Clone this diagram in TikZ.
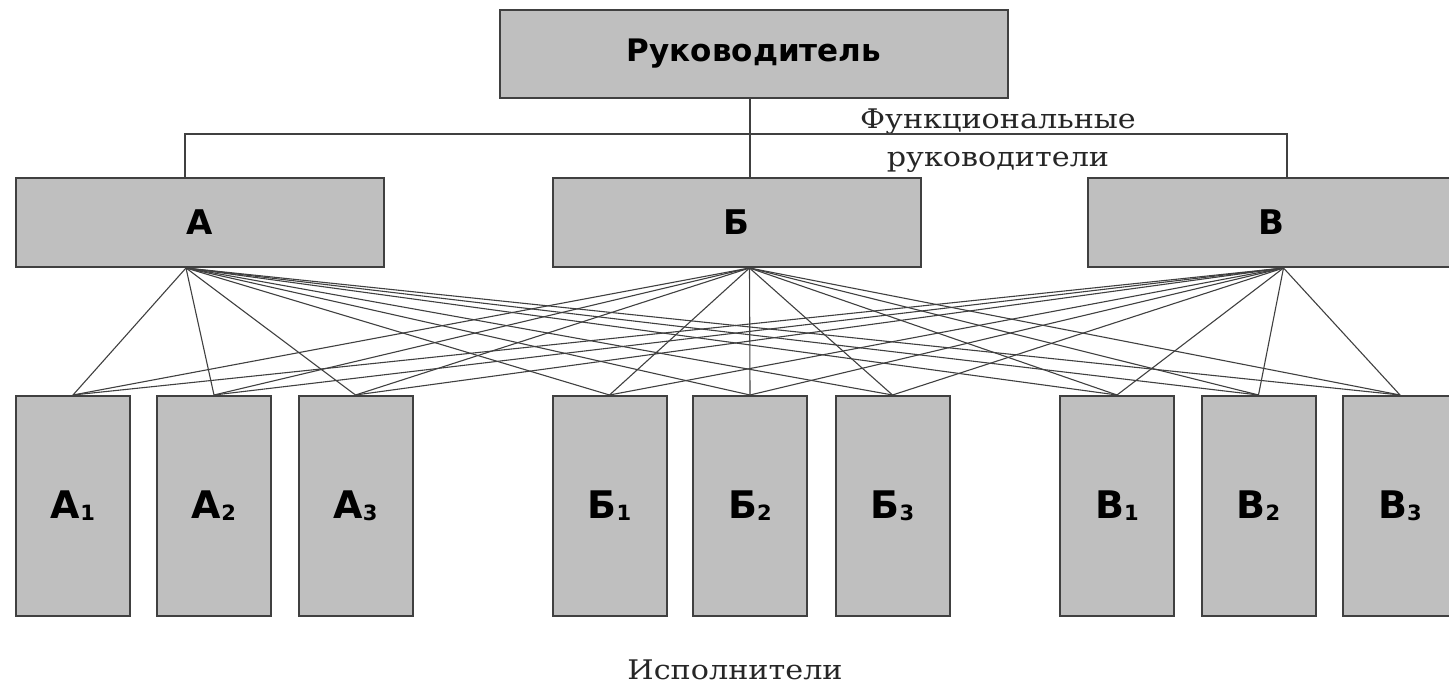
\documentclass[tikz,border=0pt]{standalone}
\usepackage{fontspec}
\setmainfont{DejaVu Serif}
\setsansfont{DejaVu Sans}
\newfontfamily\labelfont{DejaVu Serif}[FakeStretch=1.12]
\usepackage{tikz}
\usetikzlibrary{positioning}
\newcommand{\idx}[1]{\raisebox{-2pt}{\fontsize{21}{21}\selectfont #1}}

\begin{document}
\begin{tikzpicture}[
  x=1pt, y=-1pt,
  chief/.style={draw=black!75, line width=2pt, fill=gray!50, minimum width=508pt, minimum height=88pt, inner sep=0pt, font=\sffamily\bfseries\fontsize{31}{31}\selectfont},
  headbox/.style={draw=black!75, line width=2pt, fill=gray!50, minimum width=368pt, minimum height=89pt, inner sep=0pt, font=\sffamily\bfseries\fontsize{34}{34}\selectfont},
  workbox/.style={draw=black!75, line width=2pt, fill=gray!50, minimum width=114pt, minimum height=220pt, inner sep=0pt, font=\sffamily\bfseries\fontsize{38}{38}\selectfont},
  note/.style={font=\labelfont\fontsize{27}{38}\selectfont, text=black!85, align=center, inner sep=0pt},
  link/.style={draw=black!75, line width=1.3pt}
]
\useasboundingbox (0,0) rectangle (1449,687);
\clip (0,0) rectangle (1449,687);

% managers
\node[chief] (boss) at (754,54) {Руководитель};
\node[headbox] (a) at (200,222.5) {А};
\node[headbox] (b) at (736.5,222.5) {Б};
\node[headbox] (v) at (1271.5,222.5) {В};

% executors
\node[workbox] (a1) at (73,506) {А\idx{1}};
\node[workbox] (a2) at (214,506) {А\idx{2}};
\node[workbox] (a3) at (355.5,506) {А\idx{3}};
\node[workbox] (b1) at (609.5,506) {Б\idx{1}};
\node[workbox] (b2) at (750,506) {Б\idx{2}};
\node[workbox] (b3) at (892.5,506) {Б\idx{3}};
\node[workbox] (v1) at (1117,506) {В\idx{1}};
\node[workbox] (v2) at (1258.5,506) {В\idx{2}};
\node[workbox] (v3) at (1400,506) {В\idx{3}};

\node[note] (func) at (998,141) {Функциональные\\руководители};
\node[note] (exec) at (735,670) {Исполнители};

% line manager to functional heads
\coordinate (bus) at (750,134);
\draw[link] ([xshift=-4pt]boss.south) -- ([xshift=13.5pt]b.north);
\draw[link] ([xshift=-15pt]a.north) |- (bus) -| ([xshift=15.5pt]v.north);

% every head to every executor
\foreach \m/\s in {a/-14pt,b/13pt,v/12pt}
  \foreach \e in {a1,a2,a3,b1,b2,b3,v1,v2,v3}
    \draw[link, line width=1.1pt] ([xshift=\s]\m.south) -- (\e.north);
\end{tikzpicture}
\end{document}
